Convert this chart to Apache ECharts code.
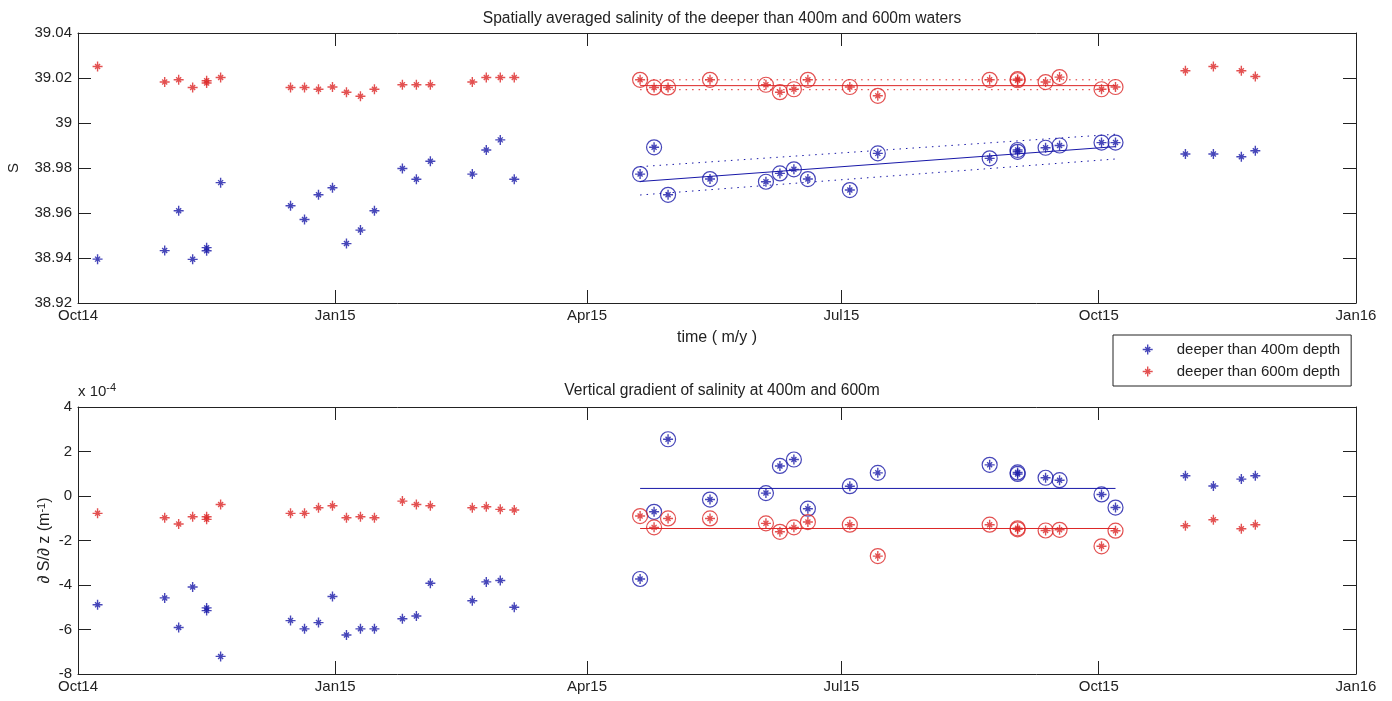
<!DOCTYPE html>
<html>
<head>
<meta charset="utf-8">
<script src="https://cdn.jsdelivr.net/npm/echarts@6/dist/echarts.min.js"></script>
<style>
html,body{margin:0;padding:0;background:#fff;}
#chart{width:1392px;height:701px;}
</style>
</head>
<body>
<div id="chart"></div>
<script>
// ---------------- data ----------------
const xTickDates = ['2014-10-01','2015-01-01','2015-04-01','2015-07-01','2015-10-01','2016-01-01'];
const xTickLabels = ['Oct14','Jan15','Apr15','Jul15','Oct15','Jan16'];
const sTicks = [38.92, 39.04, 0.02];      // min, max, step of salinity axis
const gTicks = [-8, 4, 2];                // min, max, step of gradient axis (x 10^-4)

const dates = [
  '2014-10-08','2014-11-01','2014-11-06','2014-11-11','2014-11-16','2014-11-16','2014-11-21',
  '2014-12-16','2014-12-21','2014-12-26','2014-12-31','2015-01-05','2015-01-10','2015-01-15',
  '2015-01-25','2015-01-30','2015-02-04','2015-02-19','2015-02-24','2015-03-01','2015-03-06',
  '2015-04-20','2015-04-25','2015-04-30','2015-05-15','2015-06-04','2015-06-09','2015-06-14',
  '2015-06-19','2015-07-04','2015-07-14','2015-08-23','2015-09-02','2015-09-02','2015-09-12',
  '2015-09-17','2015-10-02','2015-10-07',
  '2015-11-01','2015-11-11','2015-11-21','2015-11-26'
];
const salinity400 = [
  38.9395,38.9433,38.9610,38.9394,38.9446,38.9432,38.9735,
  38.9632,38.9571,38.9681,38.9712,38.9464,38.9524,38.9610,
  38.9798,38.9750,38.9830,38.9773,38.9880,38.9925,38.9750,
  38.9773,38.9892,38.9681,38.9751,38.9739,38.9776,38.9794,
  38.9751,38.9702,38.9865,38.9843,38.9880,38.9872,38.9890,
  38.9900,38.9913,38.9913,
  38.9862,38.9862,38.9850,38.9877
];
const salinity600 = [
  39.0251,39.0182,39.0192,39.0158,39.0188,39.0178,39.0202,
  39.0158,39.0158,39.0150,39.0160,39.0137,39.0119,39.0150,
  39.0170,39.0170,39.0170,39.0182,39.0202,39.0202,39.0202,
  39.0192,39.0158,39.0158,39.0192,39.0170,39.0137,39.0150,
  39.0192,39.0160,39.0121,39.0192,39.0195,39.0190,39.0182,
  39.0204,39.0150,39.0160,
  39.0232,39.0251,39.0232,39.0207
];
const gradient400 = [  // x 1e-4 m^-1
  -4.89,-4.58,-5.91,-4.09,-5.03,-5.15,-7.21,
  -5.60,-5.97,-5.69,-4.52,-6.25,-5.97,-5.97,
  -5.52,-5.39,-3.92,-4.71,-3.86,-3.80,-5.00,
  -3.73,-0.71,2.55,-0.16,0.13,1.35,1.64,
  -0.57,0.44,1.04,1.40,1.06,0.99,0.82,
  0.71,0.07,-0.52,
  0.91,0.45,0.76,0.91
];
const gradient600 = [  // x 1e-4 m^-1
  -0.78,-0.98,-1.26,-0.93,-0.93,-1.05,-0.38,
  -0.78,-0.78,-0.53,-0.44,-0.98,-0.93,-0.98,
  -0.23,-0.38,-0.44,-0.53,-0.48,-0.60,-0.63,
  -0.90,-1.41,-1.01,-1.01,-1.23,-1.61,-1.41,
  -1.17,-1.29,-2.70,-1.29,-1.45,-1.50,-1.55,
  -1.52,-2.26,-1.56,
  -1.34,-1.07,-1.47,-1.29
];
const fitRange = ['2015-04-20','2015-10-07'];
const trendDates = ['2015-04-20','2015-10-07'];
const s400Fit = [38.9740, 38.9895];
const s400Lo  = [38.9680, 38.9840];
const s400Hi  = [38.9806, 38.9950];
const s600Fit = [39.0166, 39.0166];
const s600Lo  = [39.0148, 39.0148];
const s600Hi  = [39.0192, 39.0192];
const g400Fit = [0.34, 0.34];
const g600Fit = [-1.46, -1.46];

// ---------------- build ----------------
const BLUE = '#1818a8', RED = '#dc2626', INK = '#222';
const FONT = "'Liberation Sans', Arial, sans-serif";
const FS = 15;
const toTs = d => Date.UTC(+d.slice(0,4), +d.slice(5,7)-1, +d.slice(8,10));
const tickTs = xTickDates.map(toTs);
const f0 = toTs(fitRange[0]), f1 = toTs(fitRange[1]);
const pairs = arr => dates.map((d,i)=>[toTs(d), arr[i]]);
const fitOnly = arr => pairs(arr).filter(p => p[0] >= f0 && p[0] <= f1);
const trend = arr => trendDates.map((d,i)=>[toTs(d), arr[i]]);
const STAR = 'path://M0,-10L0,10M-10,0L10,0M-5,-5L5,5M-5,5L5,-5';

function xAx(grid, bottom){
  return {
    type:'value', gridIndex:grid, position: bottom ? 'bottom':'top',
    min: tickTs[0], max: tickTs[tickTs.length-1],
    axisLine:{show:true, onZero:false, lineStyle:{color:INK,width:1}},
    axisTick:{show:true, inside:true, length:13, customValues:tickTs, lineStyle:{color:INK}},
    axisLabel:{show:bottom, customValues:tickTs, margin:5, color:INK, fontSize:FS, fontFamily:FONT,
      formatter: v => { const i = tickTs.indexOf(v); return i>=0 ? xTickLabels[i] : ''; }},
    splitLine:{show:false}
  };
}
function yAx(grid, left, t){
  return {
    type:'value', gridIndex:grid, position: left ? 'left':'right',
    min:t[0], max:t[1], interval:t[2],
    axisLine:{show:true, onZero:false, lineStyle:{color:INK,width:1}},
    axisTick:{show:true, inside:true, length:13, lineStyle:{color:INK}},
    axisLabel:{show:left, margin:6, color:INK, fontSize:FS, fontFamily:FONT,
      formatter: v => String(parseFloat(v.toFixed(4)))},
    splitLine:{show:false}
  };
}
function stars(name, arr, color, xi, yi){
  return {type:'scatter', name, data:pairs(arr), xAxisIndex:xi, yAxisIndex:yi,
    symbol:STAR, symbolSize:10, z:4,
    itemStyle:{color:color, borderColor:color, borderWidth:1.4}};
}
function rings(arr, color, xi, yi){
  return {type:'scatter', data:fitOnly(arr), xAxisIndex:xi, yAxisIndex:yi,
    symbol:'circle', symbolSize:15, z:3, silent:true,
    itemStyle:{color:'rgba(0,0,0,0)', borderColor:color, borderWidth:1.2}};
}
function tline(arr, color, xi, yi, dotted){
  return {type:'line', data:trend(arr), xAxisIndex:xi, yAxisIndex:yi,
    symbol:'none', z:2, silent:true,
    lineStyle:{color:color, width:1, type: dotted ? [1.5,5] : 'solid'}};
}

const xaxes = [xAx(0,true), xAx(0,false), xAx(1,true), xAx(1,false)];
xaxes[0].name = 'time ( m/y )';
xaxes[0].nameLocation = 'middle';
xaxes[0].nameGap = 27;
xaxes[0].nameTextStyle = {color:INK, fontSize:16, fontFamily:FONT};
const yaxes = [yAx(0,true,sTicks), yAx(0,false,sTicks), yAx(1,true,gTicks), yAx(1,false,gTicks)];
yaxes[0].name = 'S';
yaxes[0].nameLocation = 'middle';
yaxes[0].nameGap = 57;
yaxes[0].nameTextStyle = {color:INK, fontSize:FS, fontFamily:FONT};
yaxes[2].name = '{a|\u2202 S/\u2202 z (m}{s|-1}{a|)}';
yaxes[2].nameLocation = 'middle';
yaxes[2].nameGap = 24;
yaxes[2].nameMoveOverlap = false;
yaxes[2].nameTextStyle = {color:INK, fontSize:16, fontFamily:FONT,
  rich:{a:{fontSize:16, fontFamily:FONT, color:INK}, s:{fontSize:11, fontFamily:FONT, color:INK, verticalAlign:'top', padding:[0,0,7,0]}}};

const option = {
  backgroundColor:'#fff',
  animation:false,
  textStyle:{fontFamily:FONT},
  title:[
    {text:'Spatially averaged salinity of the deeper than 400m and 600m waters', left:717, top:6, textAlign:'center',
     textStyle:{fontSize:15.6, fontWeight:'normal', color:INK, fontFamily:FONT}},
    {text:'Vertical gradient of salinity at 400m and 600m', left:717, top:378, textAlign:'center',
     textStyle:{fontSize:15.6, fontWeight:'normal', color:INK, fontFamily:FONT}}
  ],
  grid:[
    {left:78, right:36, top:33, height:270, outerBoundsMode:'none', containLabel:false},
    {left:78, right:36, top:407, height:267, outerBoundsMode:'none', containLabel:false}
  ],
  legend:{
    left:1113, top:335, orient:'vertical',
    backgroundColor:'#fff', borderColor:INK, borderWidth:1,
    padding:[7,11,7,29], itemGap:7, itemWidth:10, itemHeight:10,
    textStyle:{color:INK, fontSize:FS, fontFamily:FONT, padding:[0,0,0,19]},
    data:[
      {name:'deeper than 400m depth', icon:STAR, itemStyle:{color:BLUE, borderColor:BLUE, borderWidth:1.4}},
      {name:'deeper than 600m depth', icon:STAR, itemStyle:{color:RED, borderColor:RED, borderWidth:1.4}}
    ]
  },
  graphic:[
    {type:'text', left:78, top:382, style:{
      text:'{a|x 10}{s|-4}', fill:INK,
      rich:{a:{fontSize:FS, fontFamily:FONT, fill:INK}, s:{fontSize:11, fontFamily:FONT, fill:INK, verticalAlign:'top', padding:[0,0,8,0]}}}}
  ],
  xAxis:xaxes,
  yAxis:yaxes,
  series:[
    tline(s600Fit, RED, 0, 0, false), tline(s600Lo, RED, 0, 0, true), tline(s600Hi, RED, 0, 0, true),
    tline(s400Fit, BLUE, 0, 0, false), tline(s400Lo, BLUE, 0, 0, true), tline(s400Hi, BLUE, 0, 0, true),
    rings(salinity400, BLUE, 0, 0), rings(salinity600, RED, 0, 0),
    stars('deeper than 400m depth', salinity400, BLUE, 0, 0),
    stars('deeper than 600m depth', salinity600, RED, 0, 0),
    tline(g400Fit, BLUE, 2, 2, false), tline(g600Fit, RED, 2, 2, false),
    rings(gradient400, BLUE, 2, 2), rings(gradient600, RED, 2, 2),
    stars('deeper than 400m depth', gradient400, BLUE, 2, 2),
    stars('deeper than 600m depth', gradient600, RED, 2, 2)
  ]
};
const chart = echarts.init(document.getElementById('chart'), null, {renderer:'canvas'});
chart.setOption(option);
</script>
</body>
</html>
